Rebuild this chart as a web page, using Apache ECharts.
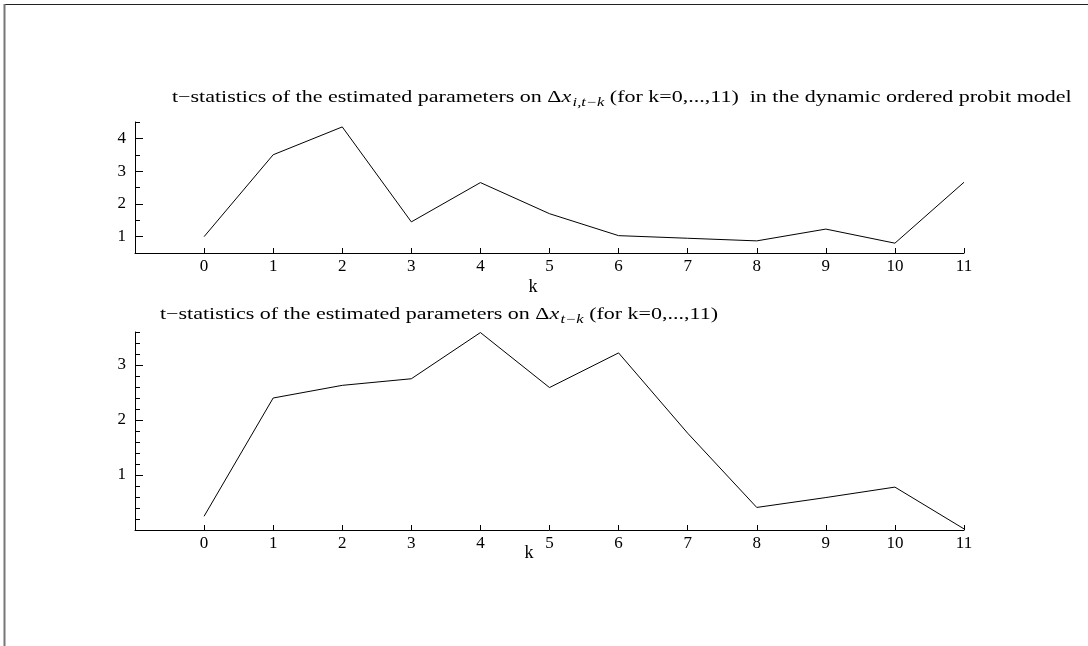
<!DOCTYPE html>
<html>
<head>
<meta charset="utf-8">
<script src="https://cdn.jsdelivr.net/npm/echarts@6/dist/echarts.min.js"></script>
<style>
html,body{margin:0;padding:0;background:#fff;}
#chart{width:1088px;height:646px;}
</style>
</head>
<body>
<div id="chart"></div>
<script>
// ---- data ----
const kValues = [0, 1, 2, 3, 4, 5, 6, 7, 8, 9, 10, 11];
const topTStats = [1.00, 3.50, 4.35, 1.45, 2.65, 1.70, 1.03, 0.95, 0.87, 1.23, 0.80, 2.66];
const bottomTStats = [0.25, 2.40, 2.63, 2.75, 3.59, 2.59, 3.22, 1.76, 0.41, 0.59, 0.78, 0.02];

const xTicks = [0, 1, 2, 3, 4, 5, 6, 7, 8, 9, 10, 11];
const topYMajor = [1, 2, 3, 4];
const topYMinor = [1.5, 2.5, 3.5, 4.5];
const bottomYMajor = [1, 2, 3];
const bottomYMinor = [0.2, 0.4, 0.6, 0.8, 1.2, 1.4, 1.6, 1.8, 2.2, 2.4, 2.6, 2.8, 3.2, 3.4, 3.6];

const topTitle = ['t\u2212statistics of the estimated parameters on ', 'Δ', 'x', 'i,t\u2212k', ' (for k=0,...,11)  in the dynamic ordered probit model'];
const bottomTitle = ['t\u2212statistics of the estimated parameters on ', 'Δ', 'x', 't\u2212k', ' (for k=0,...,11)'];

const FONT = '"Liberation Serif", "Times New Roman", serif';

const chart = echarts.init(document.getElementById('chart'), null, {renderer: 'canvas'});

function xAxis(grid) {
  return {
    type: 'value', gridIndex: grid, min: -1, max: 11,
    axisLine: {show: true, onZero: false, lineStyle: {color: '#000', width: 1}},
    axisTick: {show: true, inside: true, length: 5, customValues: xTicks, lineStyle: {color: '#000'}},
    axisLabel: {show: true, customValues: xTicks, color: '#000', fontFamily: FONT, fontSize: 17, margin: 5},
    splitLine: {show: false}
  };
}
function yAxisMajor(grid, min, max, major) {
  return {
    type: 'value', gridIndex: grid, min: min, max: max,
    axisLine: {show: true, onZero: false, lineStyle: {color: '#000', width: 1}},
    axisTick: {show: true, inside: true, length: 8, customValues: major, lineStyle: {color: '#000'}},
    axisLabel: {show: true, customValues: major, color: '#000', fontFamily: FONT, fontSize: 17, margin: 9},
    splitLine: {show: false}
  };
}
function yAxisMinor(grid, min, max, minor) {
  return {
    type: 'value', gridIndex: grid, min: min, max: max, position: 'left',
    axisLine: {show: false, onZero: false},
    axisTick: {show: true, inside: true, length: 5, customValues: minor, lineStyle: {color: '#000'}},
    axisLabel: {show: false},
    splitLine: {show: false}
  };
}

function titleText(parts) {
  return '{n|' + parts[0] + '}{n|' + parts[1] + '}{it|' + parts[2] + '}{sub|' + parts[3] + '}{n|' + parts[4] + '}';
}
const rich = {
  n: {fontFamily: FONT, fontSize: 16, fill: '#000'},
  it: {fontFamily: FONT, fontSize: 16, fontStyle: 'italic', fill: '#000'},
  sub: {fontFamily: FONT, fontSize: 12, fontStyle: 'italic', fill: '#000', padding: [10, 0, 0, 1]}
};
const TITLE_SCALE = 1.375;

const option = {
  animation: false,
  backgroundColor: '#fff',
  grid: [
    {left: 135, right: 124, top: 122, height: 131},
    {left: 135, right: 124, top: 332, height: 198}
  ],
  xAxis: [xAxis(0), xAxis(1)],
  yAxis: [
    yAxisMajor(0, 0.5, 4.5, topYMajor),
    yAxisMinor(0, 0.5, 4.5, topYMinor),
    yAxisMajor(1, 0, 3.6, bottomYMajor),
    yAxisMinor(1, 0, 3.6, bottomYMinor)
  ],
  series: [
    {type: 'line', xAxisIndex: 0, yAxisIndex: 0, symbol: 'none', lineStyle: {color: '#000', width: 1},
     data: kValues.map((k, i) => [k, topTStats[i]])},
    {type: 'line', xAxisIndex: 1, yAxisIndex: 2, symbol: 'none', lineStyle: {color: '#000', width: 1},
     data: kValues.map((k, i) => [k, bottomTStats[i]])}
  ],
  graphic: [
    {type: 'line', shape: {x1: 4, y1: 4.5, x2: 1088, y2: 4.5}, style: {stroke: '#222', lineWidth: 1}, silent: true},
    {type: 'line', shape: {x1: 4.5, y1: 4, x2: 4.5, y2: 646}, style: {stroke: '#777', lineWidth: 2}, silent: true},
    {type: 'text', x: 172, y: 98, scaleX: TITLE_SCALE, originX: 0, originY: 0,
     style: {text: titleText(topTitle), rich: rich, fill: '#000', textAlign: 'left', textVerticalAlign: 'middle'}},
    {type: 'text', x: 160, y: 315, scaleX: TITLE_SCALE, originX: 0, originY: 0,
     style: {text: titleText(bottomTitle), rich: rich, fill: '#000', textAlign: 'left', textVerticalAlign: 'middle'}},
    {type: 'text', x: 533, y: 287, style: {text: 'k', fontFamily: FONT, fontSize: 18, fill: '#000', textAlign: 'center', textVerticalAlign: 'middle'}},
    {type: 'text', x: 529, y: 553, style: {text: 'k', fontFamily: FONT, fontSize: 18, fill: '#000', textAlign: 'center', textVerticalAlign: 'middle'}}
  ]
};
chart.setOption(option);
</script>
</body>
</html>
